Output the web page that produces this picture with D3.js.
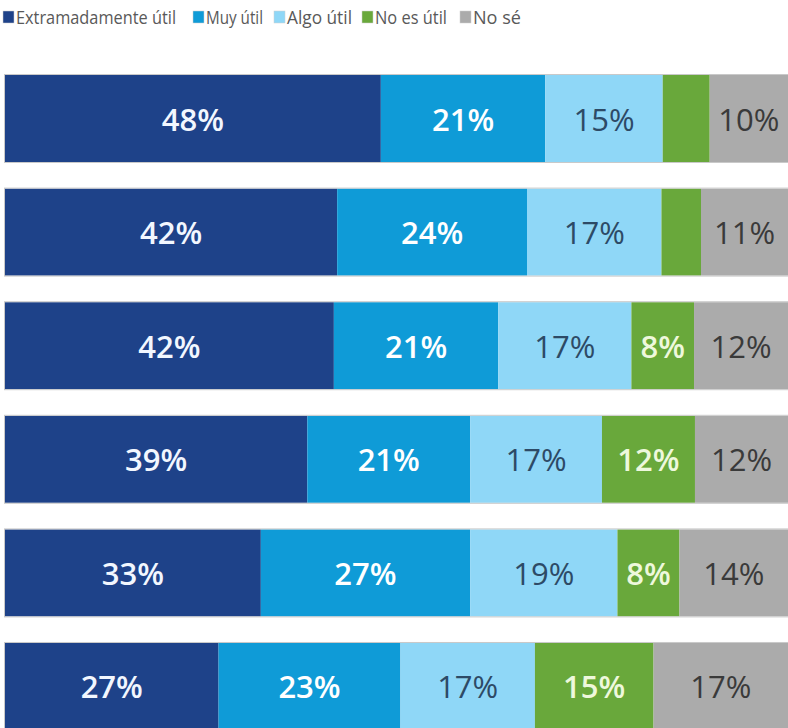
<!DOCTYPE html>
<html>
<head>
<meta charset="utf-8">
<script src="https://cdn.jsdelivr.net/npm/d3@7"></script>
<style>
  body { margin: 0; background: #fff; }
  svg { display: block; }
</style>
</head>
<body>
<svg id="chart" width="788" height="728"></svg>
<script>
// answer categories (legend order = stack order)
const categories = ['Extramadamente útil', 'Muy útil', 'Algo útil', 'No es útil', 'No sé'];
const rowIds = ['1', '2', '3', '4', '5', '6'];

// series values, one per row (percent)
const extramadamente = [48, 42, 42, 39, 33, 27];
const muyUtil = [21, 24, 21, 21, 27, 23];
const algoUtil = [15, 17, 17, 17, 19, 17];
const noEsUtil = [6, 5, 8, 12, 8, 15];
const noSe = [10, 11, 12, 12, 14, 17];

const colors = ['#1e4289', '#0f9bd7', '#8fd7f7', '#69a83b', '#ababab'];
const labelColors = ['#f2f7ff', '#ffffff', '#2d4a66', '#eef8dc', '#3a3a3a'];
const labelWeights = [700, 700, 400, 700, 400];

const series = [extramadamente, muyUtil, algoUtil, noEsUtil, noSe];
const rows = rowIds.map((id, i) => {
  const row = { id };
  categories.forEach((c, k) => { row[c] = series[k][i]; });
  row.total = d3.sum(series, s => s[i]);
  return row;
});

const svg = d3.select('#chart');

const y = d3.scaleBand()
  .domain(rowIds)
  .range([75, 730])
  .paddingInner(0.234)
  .paddingOuter(0);

const stacked = d3.stack().keys(categories)(rows);

// each row is a 100% bar: scale per row total
const xFor = (row) => d3.scaleLinear().domain([0, row.total]).range([5, 788]);

const layers = svg.append('g')
  .selectAll('g')
  .data(stacked)
  .join('g');

layers.selectAll('rect')
  .data((d, k) => d.map(seg => ({ seg, k })))
  .join('rect')
  .attr('x', d => xFor(d.seg.data)(d.seg[0]))
  .attr('y', d => y(d.seg.data.id))
  .attr('width', d => xFor(d.seg.data)(d.seg[1]) - xFor(d.seg.data)(d.seg[0]))
  .attr('height', y.bandwidth())
  .attr('fill', d => colors[d.k]);

// faint outline round every bar
svg.append('g')
  .selectAll('rect')
  .data(rows)
  .join('rect')
  .attr('x', 4.5)
  .attr('y', d => y(d.id) - 0.5)
  .attr('width', 790)
  .attr('height', y.bandwidth() + 1)
  .attr('fill', 'none')
  .attr('stroke', '#c9c9c9')
  .attr('stroke-width', 1);

// value labels, only where the segment is wide enough
layers.selectAll('text')
  .data((d, k) => d.map(seg => ({ seg, k })))
  .join('text')
  .filter(d => {
    const x = xFor(d.seg.data);
    return x(d.seg[1]) - x(d.seg[0]) > 56;
  })
  .attr('x', d => {
    const x = xFor(d.seg.data);
    return (x(d.seg[0]) + x(d.seg[1])) / 2;
  })
  .attr('y', d => y(d.seg.data.id) + y.bandwidth() / 2)
  .attr('text-anchor', 'middle')
  .attr('dominant-baseline', 'central')
  .attr('font-family', 'Open Sans, sans-serif')
  .attr('font-size', 31)
  .attr('font-weight', d => labelWeights[d.k] === 700 ? 600 : 400)
  .attr('fill', d => labelColors[d.k])
  .text(d => `${d.seg[1] - d.seg[0]}%`);

// legend (narrow Calibri look: squeeze text into the measured widths)
const legendX = [3, 193, 274, 362, 460];
const legendW = [160, 57, 65, 72, 48];
const legend = svg.append('g')
  .selectAll('g')
  .data(categories)
  .join('g')
  .attr('transform', (d, i) => `translate(${legendX[i]},0)`);

legend.append('rect')
  .attr('x', 0)
  .attr('y', 11)
  .attr('width', 11)
  .attr('height', 12)
  .attr('fill', (d, i) => colors[i])
  .attr('stroke', '#d0d0d0')
  .attr('stroke-width', 0.5);

legend.append('text')
  .attr('x', 13)
  .attr('y', 17)
  .attr('dominant-baseline', 'central')
  .attr('font-family', 'Open Sans, sans-serif')
  .attr('font-size', 19)
  .attr('textLength', (d, i) => legendW[i])
  .attr('lengthAdjust', 'spacingAndGlyphs')
  .attr('fill', '#595959')
  .text(d => d);
</script>
</body>
</html>
